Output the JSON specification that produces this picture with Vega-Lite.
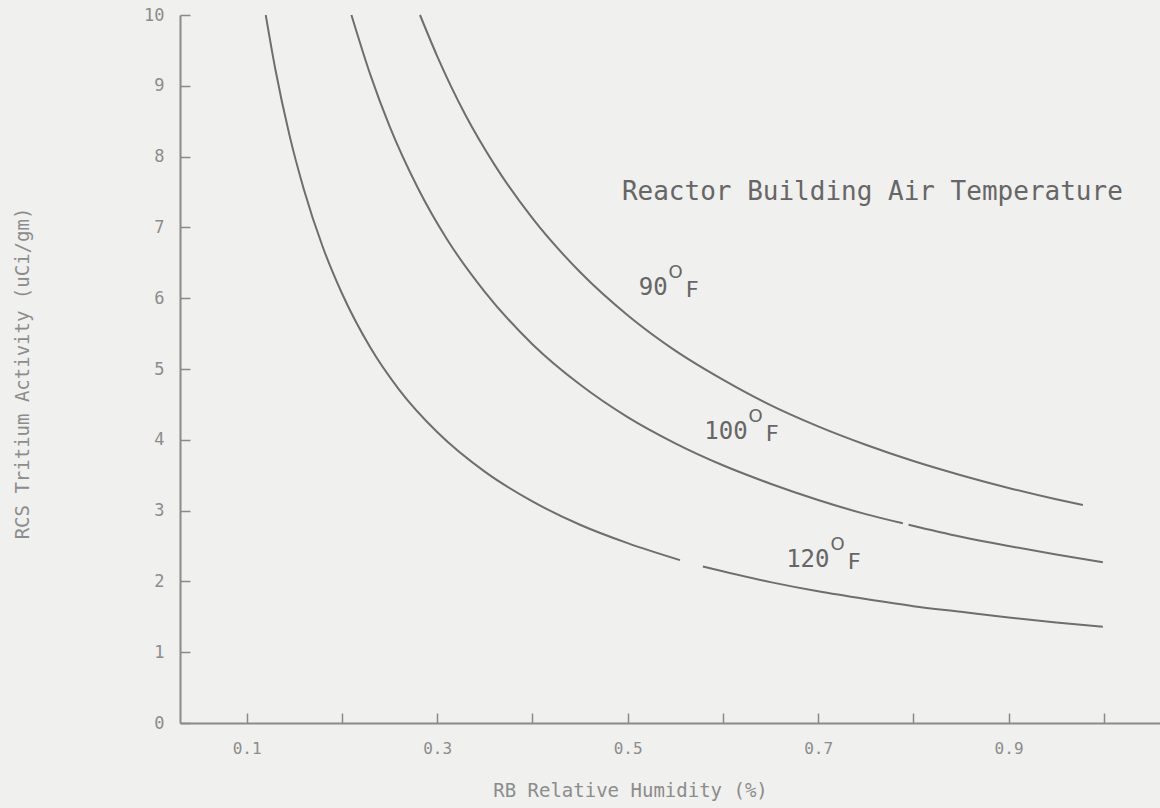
{
  "$schema": "https://vega.github.io/schema/vega-lite/v6.json",
  "width": 980,
  "height": 708,
  "autosize": {"type": "none"},
  "padding": {"left": 180, "top": 15, "right": 0, "bottom": 85},
  "background": "#f0f0ee",
  "config": {"view": {"stroke": null}},
  "datasets": {
    "curves": [
      {"temp": "90", "seg": "90a", "x": 0.282, "y": 10},
      {"temp": "90", "seg": "90a", "x": 0.300, "y": 9.42},
      {"temp": "90", "seg": "90a", "x": 0.330, "y": 8.58},
      {"temp": "90", "seg": "90a", "x": 0.360, "y": 7.89},
      {"temp": "90", "seg": "90a", "x": 0.400, "y": 7.13},
      {"temp": "90", "seg": "90a", "x": 0.450, "y": 6.37},
      {"temp": "90", "seg": "90a", "x": 0.500, "y": 5.76},
      {"temp": "90", "seg": "90a", "x": 0.550, "y": 5.26},
      {"temp": "90", "seg": "90a", "x": 0.600, "y": 4.85},
      {"temp": "90", "seg": "90a", "x": 0.650, "y": 4.49},
      {"temp": "90", "seg": "90a", "x": 0.700, "y": 4.19},
      {"temp": "90", "seg": "90a", "x": 0.750, "y": 3.93},
      {"temp": "90", "seg": "90a", "x": 0.800, "y": 3.70},
      {"temp": "90", "seg": "90a", "x": 0.850, "y": 3.50},
      {"temp": "90", "seg": "90a", "x": 0.900, "y": 3.32},
      {"temp": "90", "seg": "90a", "x": 0.950, "y": 3.16},
      {"temp": "90", "seg": "90a", "x": 0.978, "y": 3.08},
      {"temp": "100", "seg": "100a", "x": 0.210, "y": 10},
      {"temp": "100", "seg": "100a", "x": 0.230, "y": 9.15},
      {"temp": "100", "seg": "100a", "x": 0.250, "y": 8.43},
      {"temp": "100", "seg": "100a", "x": 0.280, "y": 7.55},
      {"temp": "100", "seg": "100a", "x": 0.310, "y": 6.84},
      {"temp": "100", "seg": "100a", "x": 0.350, "y": 6.09},
      {"temp": "100", "seg": "100a", "x": 0.400, "y": 5.35},
      {"temp": "100", "seg": "100a", "x": 0.450, "y": 4.78},
      {"temp": "100", "seg": "100a", "x": 0.500, "y": 4.32},
      {"temp": "100", "seg": "100a", "x": 0.550, "y": 3.95},
      {"temp": "100", "seg": "100a", "x": 0.600, "y": 3.64},
      {"temp": "100", "seg": "100a", "x": 0.650, "y": 3.38},
      {"temp": "100", "seg": "100a", "x": 0.700, "y": 3.15},
      {"temp": "100", "seg": "100a", "x": 0.750, "y": 2.95},
      {"temp": "100", "seg": "100a", "x": 0.789, "y": 2.82},
      {"temp": "100", "seg": "100b", "x": 0.795, "y": 2.80},
      {"temp": "100", "seg": "100b", "x": 0.850, "y": 2.63},
      {"temp": "100", "seg": "100b", "x": 0.900, "y": 2.50},
      {"temp": "100", "seg": "100b", "x": 0.950, "y": 2.38},
      {"temp": "100", "seg": "100b", "x": 0.999, "y": 2.27},
      {"temp": "120", "seg": "120a", "x": 0.120, "y": 10},
      {"temp": "120", "seg": "120a", "x": 0.130, "y": 9.24},
      {"temp": "120", "seg": "120a", "x": 0.145, "y": 8.30},
      {"temp": "120", "seg": "120a", "x": 0.160, "y": 7.54},
      {"temp": "120", "seg": "120a", "x": 0.180, "y": 6.72},
      {"temp": "120", "seg": "120a", "x": 0.200, "y": 6.07},
      {"temp": "120", "seg": "120a", "x": 0.230, "y": 5.30},
      {"temp": "120", "seg": "120a", "x": 0.260, "y": 4.71},
      {"temp": "120", "seg": "120a", "x": 0.300, "y": 4.11},
      {"temp": "120", "seg": "120a", "x": 0.350, "y": 3.55},
      {"temp": "120", "seg": "120a", "x": 0.400, "y": 3.13},
      {"temp": "120", "seg": "120a", "x": 0.450, "y": 2.80},
      {"temp": "120", "seg": "120a", "x": 0.500, "y": 2.54},
      {"temp": "120", "seg": "120a", "x": 0.555, "y": 2.30},
      {"temp": "120", "seg": "120b", "x": 0.579, "y": 2.21},
      {"temp": "120", "seg": "120b", "x": 0.650, "y": 1.99},
      {"temp": "120", "seg": "120b", "x": 0.700, "y": 1.86},
      {"temp": "120", "seg": "120b", "x": 0.750, "y": 1.75},
      {"temp": "120", "seg": "120b", "x": 0.800, "y": 1.65},
      {"temp": "120", "seg": "120b", "x": 0.850, "y": 1.57},
      {"temp": "120", "seg": "120b", "x": 0.900, "y": 1.49},
      {"temp": "120", "seg": "120b", "x": 0.950, "y": 1.42},
      {"temp": "120", "seg": "120b", "x": 0.999, "y": 1.36}
    ],
    "labels": [
      {"x": 0.542, "y": 6.14, "t": "90"},
      {"x": 0.626, "y": 4.11, "t": "100"},
      {"x": 0.712, "y": 2.30, "t": "120"}
    ],
    "heading": [
      {"x": 0.494, "y": 7.50, "t": "Reactor Building Air Temperature"}
    ]
  },
  "layer": [
    {
      "data": {"name": "curves"},
      "mark": {"type": "line", "interpolate": "monotone", "stroke": "#6e6e6e", "strokeWidth": 2},
      "encoding": {
        "x": {
          "field": "x", "type": "quantitative",
          "scale": {"domain": [0.03, 1.059], "nice": false, "zero": false},
          "axis": {
            "title": "RB Relative Humidity (%)",
            "values": [0.1, 0.2, 0.3, 0.4, 0.5, 0.6, 0.7, 0.8, 0.9, 1.0],
            "format": ".1f",
            "labelExpr": "indexof(['0.1','0.3','0.5','0.7','0.9'], datum.label) >= 0 ? datum.label : ''",
            "grid": false,
            "domainColor": "#8a8a8a", "domainWidth": 2,
            "tickColor": "#8a8a8a", "tickWidth": 1.5, "tickSize": -10,
            "labelPadding": 27,
            "labelFont": "DejaVu Sans Mono", "labelFontSize": 16, "labelColor": "#8c8c8c",
            "titleFont": "DejaVu Sans Mono", "titleFontSize": 19, "titleFontWeight": "normal", "titleColor": "#8c8c8c",
            "titleX": 450, "titleY": 67, "titleBaseline": "middle", "titleAlign": "center", "titleAnchor": null
          }
        },
        "y": {
          "field": "y", "type": "quantitative",
          "scale": {"domain": [0, 10], "nice": false},
          "axis": {
            "title": "RCS Tritium Activity (uCi/gm)",
            "values": [0, 1, 2, 3, 4, 5, 6, 7, 8, 9, 10],
            "format": "d",
            "grid": false,
            "domainColor": "#8a8a8a", "domainWidth": 2,
            "tickColor": "#8a8a8a", "tickWidth": 1.5, "tickSize": -10,
            "labelPadding": 26,
            "labelFont": "DejaVu Sans Mono", "labelFontSize": 17, "labelColor": "#8c8c8c",
            "titleFont": "DejaVu Sans Mono", "titleFontSize": 19, "titleFontWeight": "normal", "titleColor": "#8c8c8c",
            "titleX": -158, "titleY": 358, "titleBaseline": "middle", "titleAlign": "center", "titleAnchor": null
          }
        },
        "detail": {"field": "seg", "type": "nominal"}
      }
    },
    {
      "mark": {"type": "rule", "stroke": "#8a8a8a", "strokeWidth": 2},
      "encoding": {"y": {"datum": 10, "type": "quantitative"}}
    },
    {
      "data": {"name": "labels"},
      "mark": {"type": "text", "align": "right", "baseline": "middle", "font": "DejaVu Sans Mono", "fontSize": 24, "fill": "#666666"},
      "encoding": {
        "x": {"field": "x", "type": "quantitative"},
        "y": {"field": "y", "type": "quantitative"},
        "text": {"field": "t", "type": "nominal"}
      }
    },
    {
      "data": {"name": "labels"},
      "mark": {"type": "text", "text": "O", "align": "left", "baseline": "middle", "dx": 1, "dy": -15, "font": "DejaVu Sans", "fontSize": 18, "fill": "#666666"},
      "encoding": {
        "x": {"field": "x", "type": "quantitative"},
        "y": {"field": "y", "type": "quantitative"}
      }
    },
    {
      "data": {"name": "labels"},
      "mark": {"type": "text", "text": "F", "align": "left", "baseline": "middle", "dx": 18, "dy": 2, "font": "DejaVu Sans Mono", "fontSize": 22, "fill": "#666666"},
      "encoding": {
        "x": {"field": "x", "type": "quantitative"},
        "y": {"field": "y", "type": "quantitative"}
      }
    },
    {
      "data": {"name": "heading"},
      "mark": {"type": "text", "align": "left", "baseline": "middle", "font": "DejaVu Sans Mono", "fontSize": 26, "fill": "#666666"},
      "encoding": {
        "x": {"field": "x", "type": "quantitative"},
        "y": {"field": "y", "type": "quantitative"},
        "text": {"field": "t", "type": "nominal"}
      }
    }
  ]
}
